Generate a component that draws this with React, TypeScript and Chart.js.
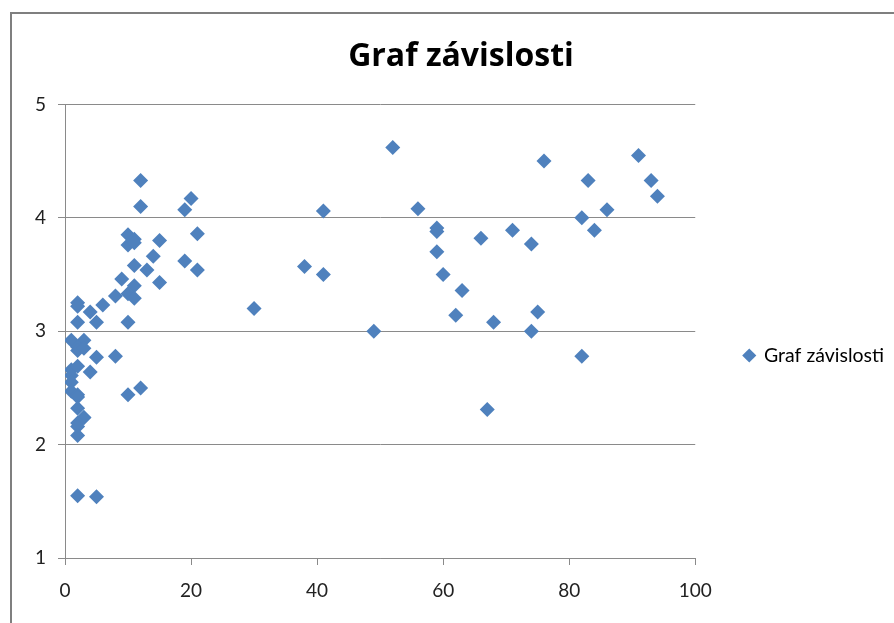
import React, { useEffect, useRef } from "react";
import { Chart, registerables } from "chart.js";

Chart.register(...registerables);

const seriesLabel = "Graf závislosti";
const titleText = "Graf závislosti";

const xValues = [
  52, 76, 91, 83, 93, 94, 56, 41, 86, 82, 84, 71, 59, 59, 66, 74, 59, 38, 41, 60,
  63, 30, 75, 62, 68, 49, 74, 82, 67,
  12, 20, 19, 12, 21, 10, 11, 10, 11, 15, 14, 19, 11, 13, 21, 9, 15, 11, 8, 10,
  11, 6, 4, 5, 10, 8, 5, 12, 10,
  2, 2, 2, 1, 3, 2, 2, 3, 1, 2, 4, 1, 1, 1, 2, 3, 2, 3, 2, 2, 2, 2, 5,
];
const yValues = [
  4.62, 4.5, 4.55, 4.33, 4.33, 4.19, 4.08, 4.06, 4.07, 4.0, 3.89, 3.89, 3.91, 3.88, 3.82, 3.77, 3.7, 3.57, 3.5, 3.5,
  3.36, 3.2, 3.17, 3.14, 3.08, 3.0, 3.0, 2.78, 2.31,
  4.33, 4.17, 4.07, 4.1, 3.86, 3.85, 3.81, 3.76, 3.78, 3.8, 3.66, 3.62, 3.58, 3.54, 3.54, 3.46, 3.43, 3.4, 3.31, 3.33,
  3.29, 3.23, 3.17, 3.08, 3.08, 2.78, 2.77, 2.5, 2.44,
  3.25, 3.22, 3.08, 2.92, 2.92, 2.86, 2.83, 2.85, 2.66, 2.69, 2.64, 2.61, 2.55, 2.47, 2.44, 2.24, 2.42, 2.24, 2.32, 2.19, 2.16, 2.08, 1.54,
];
const extraX = [2];
const extraY = [1.55];

const xTicks = [0, 20, 40, 60, 80, 100];
const yTicks = [1, 2, 3, 4, 5];

const BLUE = "#4F81BD";
const GRID = "#8a8a8a";

export default function App() {
  const canvasRef = useRef<HTMLCanvasElement | null>(null);

  useEffect(() => {
    document.body.style.margin = "0";
    const canvas = canvasRef.current;
    if (!canvas) return;
    const points = xValues.map((x, i) => ({ x, y: yValues[i] }));
    extraX.forEach((x, i) => points.push({ x, y: extraY[i] }));

    const chart = new Chart(canvas, {
      type: "scatter",
      data: {
        datasets: [
          {
            label: seriesLabel,
            data: points,
            pointStyle: "rectRot",
            pointRadius: 7.5,
            pointHoverRadius: 7.5,
            backgroundColor: BLUE,
            borderColor: BLUE,
            borderWidth: 0,
          },
        ],
      },
      options: {
        animation: false,
        responsive: false,
        maintainAspectRatio: false,
        layout: { padding: { left: 28, right: 0, top: 0, bottom: 0 } },
        plugins: {
          tooltip: { enabled: false },
          title: {
            display: true,
            text: titleText,
            color: "#000",
            font: { family: "Open Sans", size: 32, weight: "bold" },
            padding: { top: 38, bottom: 28 },
          },
          legend: {
            display: true,
            position: "right",
            title: {
              display: true,
              text: "",
              font: { family: "Lato", size: 10 },
              padding: { top: 0, bottom: 76 },
            },
            labels: {
              usePointStyle: true,
              pointStyle: "rectRot",
              boxWidth: 10,
              boxHeight: 10,
              color: "#000",
              font: { family: "Lato", size: 19.5 },
              padding: 49,
            },
          },
        },
        scales: {
          x: {
            type: "linear",
            min: 0,
            max: 100,
            afterBuildTicks: (s: any) => {
              s.ticks = xTicks.map((v) => ({ value: v }));
            },
            afterFit: (s: any) => {
              s.height = 65;
            },
            ticks: {
              color: "#222",
              font: { family: "Lato", size: 19 },
              padding: 14,
              maxRotation: 0,
            },
            grid: {
              drawOnChartArea: false,
              drawTicks: true,
              tickLength: 7,
              color: GRID,
            },
            border: { color: GRID, width: 1 },
          },
          y: {
            type: "linear",
            min: 1,
            max: 5,
            afterBuildTicks: (s: any) => {
              s.ticks = yTicks.map((v) => ({ value: v }));
            },
            afterFit: (s: any) => {
              s.width = 37;
            },
            ticks: {
              color: "#222",
              font: { family: "Lato", size: 19 },
              padding: 12,
            },
            grid: {
              drawOnChartArea: true,
              drawTicks: true,
              tickLength: 7,
              color: GRID,
            },
            border: { color: GRID, width: 1 },
          },
        },
      },
    });
    return () => chart.destroy();
  }, []);

  return (
    <div style={{ position: "relative", width: 894, height: 623, background: "#fff", overflow: "hidden" }}>
      <canvas ref={canvasRef} width={894} height={623} style={{ position: "absolute", left: 0, top: 0 }} />
      <div
        style={{
          position: "absolute",
          left: 10,
          top: 12,
          width: 900,
          height: 700,
          borderLeft: "2px solid #7f7f7f",
          borderTop: "2px solid #7f7f7f",
          pointerEvents: "none",
        }}
      />
    </div>
  );
}
